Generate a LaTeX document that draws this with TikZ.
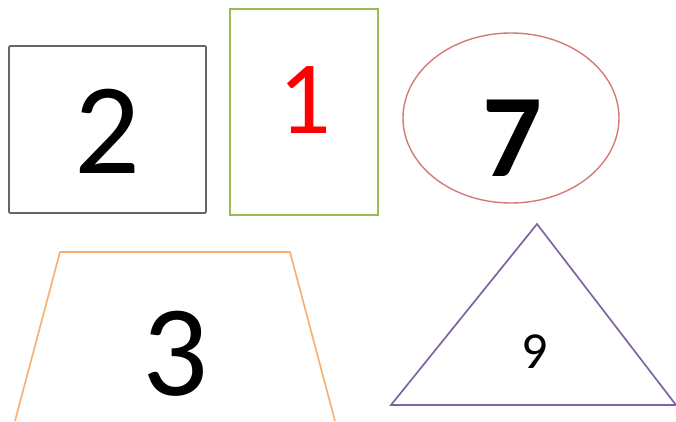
\documentclass[tikz,border=0pt]{standalone}
\usepackage{fontspec}
\setmainfont{Carlito}
\usetikzlibrary{shapes.geometric}
\definecolor{rgray}{HTML}{666666}
\definecolor{rgreen}{HTML}{9BBB59}
\definecolor{rred}{HTML}{D37A78}
\definecolor{rorange}{HTML}{F9B074}
\definecolor{rpurple}{HTML}{8064A2}
\begin{document}
\begin{tikzpicture}[x=1pt,y=-1pt,line width=1.7pt,
  digit/.style={inner sep=0pt,anchor=center}]
\useasboundingbox (0,0) rectangle (676,421);
\draw[rgray,rounded corners=1pt] (9,46) rectangle (206,213);
\draw[rgreen] (230,9) rectangle (378,215);
\draw[rred,line width=1.4pt] (511,118) ellipse [x radius=108, y radius=85];
\draw[rorange] (15,421) -- (60,252) -- (290,252) -- (335,421);
\draw[rpurple] (391,405) -- (537,224) -- (676,405) -- cycle;
\node[digit,font=\fontsize{130}{130}\selectfont] (n2) at (107,131) {2};
\node[digit,font=\fontsize{104}{104}\selectfont,text=red] (n1) at (305,100) {1};
\node[digit,font=\fontsize{118}{118}\selectfont\bfseries] (n7) at (512,138) {7};
\node[digit,font=\fontsize{130}{130}\selectfont] (n3) at (175,354) {3};
\node[digit,font=\fontsize{52}{52}\selectfont] (n9) at (535,352) {9};
\end{tikzpicture}
\end{document}
